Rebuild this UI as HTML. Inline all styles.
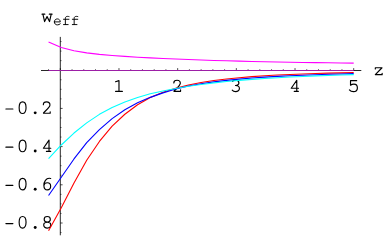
<!DOCTYPE html>
<html><head><meta charset="utf-8"><title>plot</title>
<style>html,body{margin:0;padding:0;background:#fff;}svg{display:block}</style></head>
<body><svg width="388" height="240" viewBox="0 0 388 240">
<rect width="388" height="240" fill="#fff"/>
<g id="axes"><path d="M41 70.5 H361.3 M60.3 36.9 V235.3" stroke="#000" stroke-width="0.85" fill="none"/>
<path d="M48.56 70.5 v-1.25 M60.30 70.5 v-2.4 M72.04 70.5 v-1.25 M83.77 70.5 v-1.25 M95.51 70.5 v-1.25 M107.24 70.5 v-1.25 M118.98 70.5 v-2.4 M130.72 70.5 v-1.25 M142.45 70.5 v-1.25 M154.19 70.5 v-1.25 M165.92 70.5 v-1.25 M177.66 70.5 v-2.4 M189.40 70.5 v-1.25 M201.13 70.5 v-1.25 M212.87 70.5 v-1.25 M224.60 70.5 v-1.25 M236.34 70.5 v-2.4 M248.08 70.5 v-1.25 M259.81 70.5 v-1.25 M271.55 70.5 v-1.25 M283.28 70.5 v-1.25 M295.02 70.5 v-2.4 M306.76 70.5 v-1.25 M318.49 70.5 v-1.25 M330.23 70.5 v-1.25 M341.96 70.5 v-1.25 M353.70 70.5 v-2.4 M60.3 232.55 h1.15 M60.3 223.00 h2.3 M60.3 213.45 h1.15 M60.3 203.90 h1.15 M60.3 194.35 h1.15 M60.3 184.80 h2.3 M60.3 175.25 h1.15 M60.3 165.70 h1.15 M60.3 156.15 h1.15 M60.3 146.60 h2.3 M60.3 137.05 h1.15 M60.3 127.50 h1.15 M60.3 117.95 h1.15 M60.3 108.40 h2.3 M60.3 98.85 h1.15 M60.3 89.30 h1.15 M60.3 79.75 h1.15 M60.3 60.65 h1.15 M60.3 51.10 h1.15 M60.3 41.55 h1.15" stroke="#000" stroke-width="0.7" fill="none"/></g>
<g id="labels"><path transform="translate(112.830 91.850) scale(0.0205 -0.0194)" d="M300 22 V578 L132 522 M135 22 H465" fill="none" stroke="#000" stroke-width="1.15" vector-effect="non-scaling-stroke" stroke-linecap="round" stroke-linejoin="round"/>
<path transform="translate(171.510 91.850) scale(0.0205 -0.0194)" d="M112 455 C112 540 178 596 268 596 C362 596 430 530 430 440 C430 330 300 230 120 45 V26 H442 V100" fill="none" stroke="#000" stroke-width="1.15" vector-effect="non-scaling-stroke" stroke-linecap="round" stroke-linejoin="round"/>
<path transform="translate(230.190 91.850) scale(0.0205 -0.0194)" d="M112 545 C145 578 205 596 268 596 C358 596 425 540 425 460 C425 380 358 325 258 325 C370 325 450 260 450 170 C450 75 368 8 265 8 C190 8 132 38 100 85" fill="none" stroke="#000" stroke-width="1.15" vector-effect="non-scaling-stroke" stroke-linecap="round" stroke-linejoin="round"/>
<path transform="translate(288.870 91.850) scale(0.0205 -0.0194)" d="M385 26 V596 L115 185 H470 M260 26 H465" fill="none" stroke="#000" stroke-width="1.15" vector-effect="non-scaling-stroke" stroke-linecap="round" stroke-linejoin="round"/>
<path transform="translate(347.550 91.850) scale(0.0205 -0.0194)" d="M445 575 H145 V340 C190 380 250 400 310 400 C410 400 480 320 480 200 C480 85 400 11 290 11 C200 11 130 50 90 100" fill="none" stroke="#000" stroke-width="1.15" vector-effect="non-scaling-stroke" stroke-linecap="round" stroke-linejoin="round"/>
<path transform="translate(3.160 113.750) scale(0.0208 -0.0199)" d="M132 240 H468" fill="none" stroke="#000" stroke-width="1.15" vector-effect="non-scaling-stroke" stroke-linecap="round" stroke-linejoin="round"/>
<path transform="translate(16.360 113.750) scale(0.0208 -0.0199)" d="M134 303 C134 484.03999999999996 197.07999999999998 595 300 595 C402.92 595 466 484.03999999999996 466 303 C466 121.96000000000001 402.92 11 300 11 C197.07999999999998 11 134 121.96000000000001 134 303Z" fill="none" stroke="#000" stroke-width="1.15" vector-effect="non-scaling-stroke" stroke-linecap="round" stroke-linejoin="round"/>
<circle cx="35.20" cy="112.85" r="1.45" fill="#000"/>
<path transform="translate(41.010 113.750) scale(0.0208 -0.0199)" d="M112 455 C112 540 178 596 268 596 C362 596 430 530 430 440 C430 330 300 230 120 45 V26 H442 V100" fill="none" stroke="#000" stroke-width="1.15" vector-effect="non-scaling-stroke" stroke-linecap="round" stroke-linejoin="round"/>
<path transform="translate(3.160 151.950) scale(0.0208 -0.0199)" d="M132 240 H468" fill="none" stroke="#000" stroke-width="1.15" vector-effect="non-scaling-stroke" stroke-linecap="round" stroke-linejoin="round"/>
<path transform="translate(16.360 151.950) scale(0.0208 -0.0199)" d="M134 303 C134 484.03999999999996 197.07999999999998 595 300 595 C402.92 595 466 484.03999999999996 466 303 C466 121.96000000000001 402.92 11 300 11 C197.07999999999998 11 134 121.96000000000001 134 303Z" fill="none" stroke="#000" stroke-width="1.15" vector-effect="non-scaling-stroke" stroke-linecap="round" stroke-linejoin="round"/>
<circle cx="35.20" cy="151.05" r="1.45" fill="#000"/>
<path transform="translate(41.010 151.950) scale(0.0208 -0.0199)" d="M385 26 V596 L115 185 H470 M260 26 H465" fill="none" stroke="#000" stroke-width="1.15" vector-effect="non-scaling-stroke" stroke-linecap="round" stroke-linejoin="round"/>
<path transform="translate(3.160 190.150) scale(0.0208 -0.0199)" d="M132 240 H468" fill="none" stroke="#000" stroke-width="1.15" vector-effect="non-scaling-stroke" stroke-linecap="round" stroke-linejoin="round"/>
<path transform="translate(16.360 190.150) scale(0.0208 -0.0199)" d="M134 303 C134 484.03999999999996 197.07999999999998 595 300 595 C402.92 595 466 484.03999999999996 466 303 C466 121.96000000000001 402.92 11 300 11 C197.07999999999998 11 134 121.96000000000001 134 303Z" fill="none" stroke="#000" stroke-width="1.15" vector-effect="non-scaling-stroke" stroke-linecap="round" stroke-linejoin="round"/>
<circle cx="35.20" cy="189.25" r="1.45" fill="#000"/>
<path transform="translate(41.010 190.150) scale(0.0208 -0.0199)" d="M465 585 C440 592 420 596 392 596 C250 596 138 450 138 230 C138 90 208 11 305 11 C396 11 464 85 464 190 C464 295 396 370 305 370 C220 370 150 310 138 230" fill="none" stroke="#000" stroke-width="1.15" vector-effect="non-scaling-stroke" stroke-linecap="round" stroke-linejoin="round"/>
<path transform="translate(3.160 228.350) scale(0.0208 -0.0199)" d="M132 240 H468" fill="none" stroke="#000" stroke-width="1.15" vector-effect="non-scaling-stroke" stroke-linecap="round" stroke-linejoin="round"/>
<path transform="translate(16.360 228.350) scale(0.0208 -0.0199)" d="M134 303 C134 484.03999999999996 197.07999999999998 595 300 595 C402.92 595 466 484.03999999999996 466 303 C466 121.96000000000001 402.92 11 300 11 C197.07999999999998 11 134 121.96000000000001 134 303Z" fill="none" stroke="#000" stroke-width="1.15" vector-effect="non-scaling-stroke" stroke-linecap="round" stroke-linejoin="round"/>
<circle cx="35.20" cy="227.45" r="1.45" fill="#000"/>
<path transform="translate(41.010 228.350) scale(0.0208 -0.0199)" d="M152 456 C152 533.322 218.25959999999998 596 300 596 C381.7404 596 448 533.322 448 456 C448 378.678 381.7404 316 300 316 C218.25959999999998 316 152 378.678 152 456Z M130 165 C130 248.3973 206.10899999999998 316 300 316 C393.891 316 470 248.3973 470 165 C470 81.6027 393.891 14 300 14 C206.10899999999998 14 130 81.6027 130 165Z" fill="none" stroke="#000" stroke-width="1.15" vector-effect="non-scaling-stroke" stroke-linecap="round" stroke-linejoin="round"/>
<path transform="translate(372.410 75.000) scale(0.0208 -0.0199)" d="M140 300 V365 H462 L140 18 H468 V90" fill="none" stroke="#000" stroke-width="1.15" vector-effect="non-scaling-stroke" stroke-linecap="round" stroke-linejoin="round"/>
<path transform="translate(40.820 22.100) scale(0.0208 -0.0199)" d="M58 400 H192 M408 400 H542 M100 400 L182 26 L300 275 L418 26 L500 400" fill="none" stroke="#000" stroke-width="1.15" vector-effect="non-scaling-stroke" stroke-linecap="round" stroke-linejoin="round"/>
<path transform="translate(52.949 24.950) scale(0.01467 -0.0142)" d="M95 215 H500 C500 335 410 425 298 425 C185 425 95 335 95 213 C95 90 185 5 300 5 C385 5 450 35 497 80" fill="none" stroke="#000" stroke-width="0.95" vector-effect="non-scaling-stroke" stroke-linecap="round" stroke-linejoin="round"/>
<path transform="translate(61.699 24.950) scale(0.01467 -0.0142)" d="M125 26 H440 M250 26 V470 C250 560 310 603 400 603 C440 603 470 598 500 590 M125 400 H496" fill="none" stroke="#000" stroke-width="0.95" vector-effect="non-scaling-stroke" stroke-linecap="round" stroke-linejoin="round"/>
<path transform="translate(70.499 24.950) scale(0.01467 -0.0142)" d="M125 26 H440 M250 26 V470 C250 560 310 603 400 603 C440 603 470 598 500 590 M125 400 H496" fill="none" stroke="#000" stroke-width="0.95" vector-effect="non-scaling-stroke" stroke-linecap="round" stroke-linejoin="round"/></g>
<g id="curves"><path d="M48.56 230.85 L61.28 207.84 L73.99 183.08 L86.71 160.19 L99.42 141.44 L112.13 126.13 L124.85 114.24 L137.56 104.81 L150.28 97.50 L162.99 92.22 L175.70 88.16 L188.42 85.01 L201.13 82.52 L213.85 80.55 L226.56 78.97 L239.27 77.69 L251.99 76.64 L264.70 75.78 L277.42 75.06 L290.13 74.46 L302.84 73.95 L315.56 73.52 L328.27 73.15 L340.99 72.84 L353.70 72.57" stroke="#ff0000" stroke-width="1.1" fill="none" stroke-linejoin="round"/>
<path d="M48.56 195.50 L61.28 177.21 L73.99 158.96 L86.71 142.69 L99.42 129.61 L112.13 118.59 L124.85 109.78 L137.56 102.84 L150.28 97.36 L162.99 92.88 L175.70 88.92 L188.42 85.96 L201.13 83.71 L213.85 81.87 L226.56 80.35 L239.27 79.10 L251.99 78.04 L264.70 77.15 L277.42 76.40 L290.13 75.75 L302.84 75.20 L315.56 74.72 L328.27 74.30 L340.99 73.94 L353.70 73.62" stroke="#0000ff" stroke-width="1.1" fill="none" stroke-linejoin="round"/>
<path d="M48.56 158.58 L61.28 144.98 L73.99 133.03 L86.71 122.88 L99.42 114.36 L112.13 107.59 L124.85 102.06 L137.56 97.53 L150.28 93.81 L162.99 90.94 L175.70 88.45 L188.42 86.29 L201.13 84.46 L213.85 82.90 L226.56 81.56 L239.27 80.40 L251.99 79.39 L264.70 78.51 L277.42 77.74 L290.13 77.06 L302.84 76.46 L315.56 75.92 L328.27 75.44 L340.99 75.01 L353.70 74.62" stroke="#00ffff" stroke-width="1.1" fill="none" stroke-linejoin="round"/>
<path d="M48.56 41.89 L61.28 47.55 L73.99 50.83 L86.71 52.91 L99.42 54.37 L112.13 55.49 L124.85 56.41 L137.56 57.20 L150.28 57.90 L162.99 58.51 L175.70 59.07 L188.42 59.57 L201.13 60.03 L213.85 60.44 L226.56 60.82 L239.27 61.16 L251.99 61.47 L264.70 61.75 L277.42 62.00 L290.13 62.24 L302.84 62.45 L315.56 62.64 L328.27 62.81 L340.99 62.97 L353.70 63.11" stroke="#ff00ff" stroke-width="1.1" fill="none" stroke-linejoin="round"/>
<path d="M48.56 70.5 H353.70" stroke="#9c1fa6" stroke-width="1.1" fill="none"/></g>
</svg></body></html>
